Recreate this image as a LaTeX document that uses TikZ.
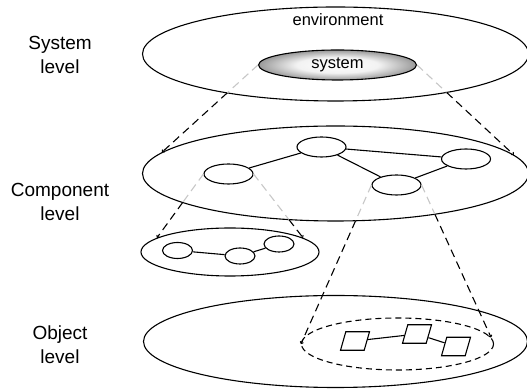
\documentclass[tikz,border=0pt]{standalone}
\usepackage{fontspec}
\setmainfont{Liberation Sans}
\usetikzlibrary{shapes.geometric,intersections,arrows.meta}
% soft glow for the system ellipse: white core, grey rim
\pgfdeclareradialshading{sysglow}{\pgfpoint{0bp}{0bp}}{%
  color(0bp)=(white); color(13bp)=(white!95!black);
  color(25bp)=(black!40); color(50bp)=(black!40)}
\begin{document}
\begin{tikzpicture}[x=1pt,y=1pt,
  plane/.style={ellipse, draw, line width=1.1pt, inner sep=0pt},
  compnode/.style={ellipse, draw, line width=1.1pt, inner sep=0pt,
    minimum width=49pt, minimum height=20pt},
  subnode/.style={ellipse, draw, line width=1.1pt, inner sep=0pt,
    minimum width=30pt, minimum height=16pt},
  objnode/.style={trapezium, trapezium left angle=74, trapezium right angle=106,
    draw, line width=1.1pt, inner sep=1pt, minimum width=29pt, minimum height=16pt},
  edgeline/.style={line width=1.1pt},
  zoomline/.style={line width=1.1pt, dash pattern=on 8pt off 5pt},
  nearpart/.style={zoomline, black!22},
  farpart/.style={zoomline, black, -{To[length=2.5pt,width=4pt]}},
  levelname/.style={align=center, font=\fontsize{19pt}{24pt}\selectfont},
  planetext/.style={font=\fontsize{16.5pt}{20pt}\selectfont},
  ]
\useasboundingbox (0,0) rectangle (527,390);

% level labels
\node[levelname] (lsys)  at (60,335) {System\\level};
\node[levelname] (lcomp) at (60,188) {Component\\level};
\node[levelname] (lobj)  at (60,45)  {Object\\level};

% system level
\node[plane, minimum width=386pt, minimum height=94pt] (env) at (335.5,336) {};
\node[planetext, anchor=base] (envtext) at (338,364) {environment};
\node[plane, planetext, minimum width=158pt, minimum height=30pt,
  shading=sysglow] (sys) at (337.5,325) {system};

% component level
\node[plane, minimum width=386pt, minimum height=95pt] (compplane) at (335.5,216.5) {};
\node[compnode] (n1) at (228.5,216) {};
\node[compnode] (n2) at (321.5,243) {};
\node[compnode] (n3) at (466,231) {};
\node[compnode] (n4) at (396.5,205) {};
\draw[edgeline] (n1) -- (n2);
\draw[edgeline] (n2) -- (n3);
\draw[edgeline] (n2) -- (n4);
\draw[edgeline] (n4) -- (n3);

% sub-component
\node[plane, minimum width=178pt, minimum height=48pt] (sub) at (230,138) {};
\node[subnode] (sa) at (177.5,139.5) {};
\node[subnode] (sb) at (240,134) {};
\node[subnode] (sc) at (279,146) {};
\draw[edgeline] (sa) -- (sb);
\draw[edgeline] (sb) -- (sc);

% object level
\node[plane, minimum width=384pt, minimum height=92pt] (objplane) at (335.5,48.5) {};
\node[plane, dash pattern=on 6pt off 4pt, minimum width=192pt, minimum height=52pt]
  (focus) at (397.5,46) {};
\node[objnode] (p1) at (355,49) {};
\node[objnode] (p2) at (417,56) {};
\node[objnode] (p3) at (456,43.5) {};
\draw[edgeline] (p1) -- (p2);
\draw[edgeline] (p2) -- (p3);

% rims used to split the zoom lines
\path[name path=envrim] (env.center) ellipse [x radius=193pt, y radius=47pt];
\path[name path=comprim] (compplane.center) ellipse [x radius=193pt, y radius=47.5pt];

% system -> component level
\path[name path=z1] (sys.west) -- (compplane.173);
\path[name intersections={of=envrim and z1, by=c1}];
\draw[nearpart] (sys.west) -- (c1);
\draw[farpart] (c1) -- (compplane.173);

\path[name path=z2] (sys.east) -- (compplane.6);
\path[name intersections={of=envrim and z2, by=c2}];
\draw[nearpart] (sys.east) -- (c2);
\draw[farpart] (c2) -- (compplane.6);

% component -> sub-component
\path[name path=z3] (n1.west) -- (sub.169);
\path[name intersections={of=comprim and z3, by=c3}];
\draw[nearpart] (n1.west) -- (c3);
\draw[farpart] (c3) -- (sub.169);

\path[name path=z4] (n1.east) -- (sub.11);
\path[name intersections={of=comprim and z4, by=c4}];
\draw[nearpart] (n1.east) -- (c4);
\draw[farpart] (c4) -- (sub.11);

% component -> objects
\path[name path=z5] (n4.west) -- (focus.west);
\path[name intersections={of=comprim and z5, by=c5}];
\draw[nearpart] (n4.west) -- (c5);
\draw[farpart] (c5) -- (focus.west);

\path[name path=z6] (n4.east) -- (focus.4);
\path[name intersections={of=comprim and z6, by=c6}];
\draw[nearpart] (n4.east) -- (c6);
\draw[farpart] (c6) -- (focus.4);
\end{tikzpicture}
\end{document}
